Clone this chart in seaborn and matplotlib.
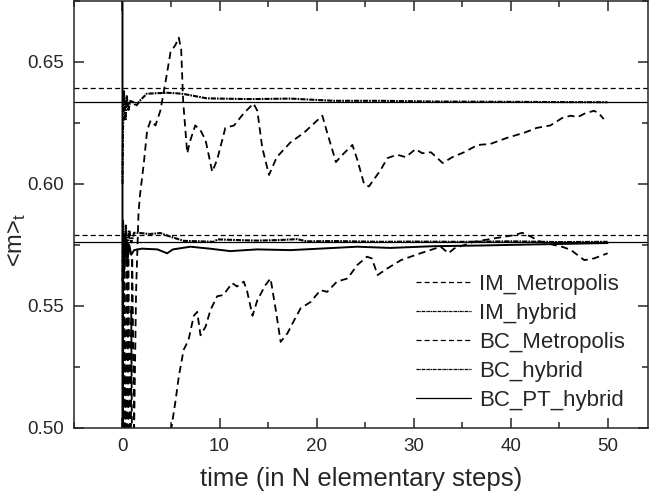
import numpy as np
import matplotlib
matplotlib.use("Agg")
import matplotlib.pyplot as plt
import seaborn as sns
from matplotlib.ticker import MultipleLocator

# ---- data ----
t_im_metro = [0, 0.2, 0.4, 0.6, 0.8, 1.0, 1.2, 1.4, 1.55, 1.65, 1.79, 2.2, 2.54, 2.9, 3.4, 3.9,
              4.4, 4.95, 5.46, 5.8, 6.05, 6.25, 6.67, 7.0, 7.5, 8.04, 8.56, 9.25, 9.76, 10.6,
              11.5, 12.5, 13.5, 13.9, 14.4, 15.1, 15.9, 17.3, 18.7, 20.6, 21.1, 22.0, 22.8,
              23.7, 24.2, 24.9, 25.4, 26.6, 27.3, 28.3, 29.2, 30.2, 30.9, 31.8, 33.0, 34.0,
              35.2, 36.6, 37.9, 39.7, 41.4, 42.7, 44.1, 45.3, 46.2, 46.9, 47.7, 48.6, 49.1, 49.6]
m_im_metro = [0.30, 0.57, 0.46, 0.575, 0.47, 0.57, 0.50, 0.556, 0.575, 0.588, 0.595, 0.6086,
              0.622, 0.626, 0.624, 0.630, 0.641, 0.654, 0.657, 0.660, 0.655, 0.634, 0.6126,
              0.618, 0.624, 0.622, 0.618, 0.605, 0.610, 0.623, 0.624, 0.629, 0.633, 0.630,
              0.615, 0.6037, 0.611, 0.617, 0.621, 0.628, 0.621, 0.609, 0.6125, 0.616, 0.610,
              0.600, 0.599, 0.6057, 0.6106, 0.612, 0.611, 0.6143, 0.6126, 0.613, 0.6086, 0.611,
              0.613, 0.616, 0.6164, 0.619, 0.621, 0.623, 0.624, 0.627, 0.628, 0.6274, 0.629,
              0.630, 0.629, 0.6266]

t_im_hyb = [0, 0.05, 0.15, 0.3, 0.45, 0.6, 0.8, 1.1, 1.4, 1.85, 2.5, 3.5, 4.6, 5.5, 6.3, 7.5,
            8.7, 10, 13.2, 17.3, 21.8, 26.7, 32, 38, 44, 50]
m_im_hyb = [0.60, 0.622, 0.638, 0.626, 0.636, 0.630, 0.634, 0.6336, 0.632, 0.6344, 0.637,
            0.6372, 0.6374, 0.6372, 0.6369, 0.636, 0.6351, 0.635, 0.6348, 0.635, 0.6341,
            0.6341, 0.6338, 0.6337, 0.6336, 0.6335]

t_bc_metro = [0, 0.15, 0.3, 0.5, 0.7, 0.9, 1.1, 2.5, 5.0, 5.46, 5.8, 6.3, 6.8, 7.35, 7.7, 8.04,
              8.56, 9.07, 9.76, 10.4, 11.3, 11.8, 12.5, 12.85, 13.4, 13.9, 14.74, 15.26, 15.8,
              16.3, 17.0, 17.7, 18.35, 19.4, 20.4, 21.1, 22.1, 23.2, 24.2, 25.2, 25.7, 26.3,
              27.3, 28.7, 30.7, 32.8, 33.6, 34.2, 36.2, 38.3, 40.3, 41.2, 42.1, 43.1, 44.5,
              45.3, 46.2, 47.6, 48.6, 50.0]
m_bc_metro = [0.30, 0.58, 0.45, 0.57, 0.44, 0.55, 0.40, 0.42, 0.499, 0.511, 0.521, 0.532, 0.536,
              0.546, 0.5476, 0.538, 0.5415, 0.5484, 0.554, 0.5545, 0.5594, 0.558, 0.560, 0.556,
              0.546, 0.5524, 0.5586, 0.5613, 0.5483, 0.5353, 0.5388, 0.5442, 0.549, 0.5517,
              0.5565, 0.5558, 0.560, 0.5613, 0.5668, 0.5702, 0.5695, 0.5627, 0.5654, 0.5688,
              0.5716, 0.5743, 0.5716, 0.5736, 0.5763, 0.5777, 0.579, 0.580, 0.5784, 0.5763,
              0.575, 0.5743, 0.573, 0.5688, 0.5695, 0.5716]

t_bc_hyb = [0, 0.05, 0.2, 0.35, 0.5, 0.7, 0.9, 1.2, 1.85, 2.8, 3.9, 4.95, 6.3, 8, 9.4, 9.8, 12,
            13.9, 16, 18.0, 19.0, 22, 26.7, 30, 35, 40, 45, 50]
m_bc_hyb = [0.56, 0.585, 0.57, 0.583, 0.572, 0.581, 0.576, 0.580, 0.5799, 0.5795, 0.5799,
            0.5784, 0.5767, 0.5765, 0.5763, 0.5773, 0.577, 0.5768, 0.577, 0.5774, 0.5765,
            0.5766, 0.5763, 0.5764, 0.5763, 0.5765, 0.5762, 0.5763]

t_bc_pt = [0, 0, 0.05, 0.2, 0.35, 0.5, 0.7, 0.9, 1.2, 2.0, 3.6, 4.6, 5.2, 7.0, 9, 11.1, 13.9,
           17.3, 20.8, 24.2, 27.6, 32, 37, 42, 46, 50]
m_bc_pt = [1.0, 0.0, 0.57, 0.565, 0.578, 0.568, 0.575, 0.571, 0.5729, 0.5735, 0.5732, 0.5716,
           0.5732, 0.5743, 0.5735, 0.5725, 0.5732, 0.5729, 0.5736, 0.5743, 0.5738, 0.5745,
           0.5748, 0.5752, 0.5755, 0.5758]

# reference levels
ref_dashed = [0.6393, 0.5791]
ref_solid = [0.6335, 0.5762]

# ---- plot ----
sns.set_style("ticks")
plt.rcParams['font.family'] = ['Liberation Sans', 'DejaVu Sans']
plt.rcParams['mathtext.fontset'] = 'custom'
plt.rcParams['mathtext.rm'] = 'Liberation Sans'
plt.rcParams['mathtext.it'] = 'Liberation Sans'

fig = plt.figure(figsize=(6.49, 5.0), dpi=100)
ax = fig.add_axes([0.114, 0.144, 0.885, 0.854])

dash = (0, (4, 2.5))
dashdot = (0, (2.5, 0.5, 0.8, 0.5))
series = [
    (t_im_metro, m_im_metro, 'IM_Metropolis', dash, 1.3),
    (t_im_hyb, m_im_hyb, 'IM_hybrid', dashdot, 1.5),
    (t_bc_metro, m_bc_metro, 'BC_Metropolis', dash, 1.3),
    (t_bc_hyb, m_bc_hyb, 'BC_hybrid', dashdot, 1.5),
    (t_bc_pt, m_bc_pt, 'BC_PT_hybrid', '-', 1.4),
]
for t, m, name, ls, lw in series:
    sns.lineplot(x=t, y=m, ax=ax, color='black', linewidth=lw, linestyle=ls,
                 label=name, sort=False, estimator=None)

for y in ref_dashed:
    ax.axhline(y, color='black', linewidth=0.9, linestyle=(0, (4, 2.5)))
for y in ref_solid:
    ax.axhline(y, color='black', linewidth=0.9)

ax.set_xlim(-5, 54.2)
ax.set_ylim(0.50, 0.675)
ax.xaxis.set_major_locator(MultipleLocator(10))
ax.xaxis.set_minor_locator(MultipleLocator(5))
ax.yaxis.set_major_locator(MultipleLocator(0.05))
ax.yaxis.set_minor_locator(MultipleLocator(0.025))
ax.tick_params(which='both', direction='in', top=True, right=True, width=1.1,
               labelsize=13.5, pad=7)
ax.tick_params(which='major', length=7)
ax.tick_params(which='minor', length=4)
ax.yaxis.set_major_formatter(matplotlib.ticker.FormatStrFormatter('%.2f'))
for s in ax.spines.values():
    s.set_linewidth(1.1)

ax.set_xlabel('time (in N elementary steps)', fontsize=18.5, labelpad=9)
ax.set_ylabel('<m>$_\\mathrm{t}$', fontsize=17)
ax.yaxis.set_label_coords(-0.08, 0.44)

leg = ax.legend(loc='lower left', bbox_to_anchor=(0.595, 0.04), frameon=False,
                fontsize=16, handlelength=2.5, handletextpad=0.35, labelspacing=0.36,
                borderaxespad=0, borderpad=0)
for line in leg.get_lines():
    line.set_linewidth(0.9)

fig.savefig('out.png', dpi=100)
